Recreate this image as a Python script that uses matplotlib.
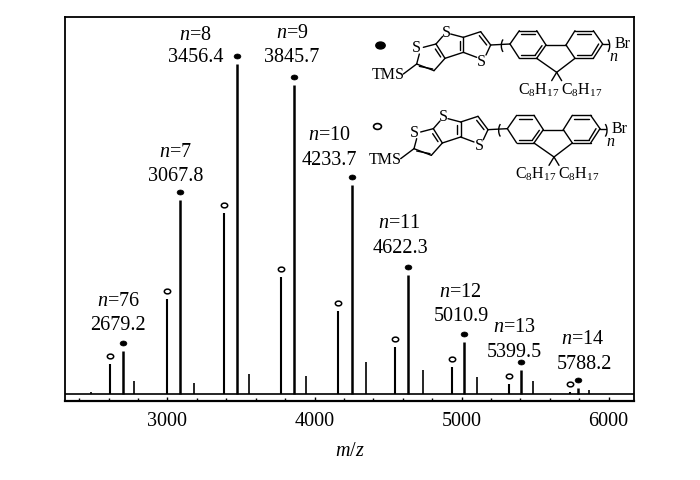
import matplotlib
matplotlib.use("Agg")
import matplotlib.pyplot as plt
from matplotlib.markers import MarkerStyle
from matplotlib.transforms import Affine2D
from matplotlib.patches import Arc

plt.rcParams['font.family'] = 'Liberation Serif'
plt.rcParams['mathtext.fontset'] = 'custom'
plt.rcParams['mathtext.rm'] = 'Liberation Serif'
plt.rcParams['mathtext.it'] = 'Liberation Serif:italic'
plt.rcParams['mathtext.default'] = 'regular'

# Data
filled_mz = [2700, 3085, 3473, 3861, 4252, 4636, 5017, 5405, 5792]
filled_int = [13, 58.4, 99.4, 93, 63, 35.8, 15.7, 7.2, 1.8]
open_mz = [2609, 2997, 3384, 3772, 4160, 4550, 4935, 5323, 5735]
open_int = [9, 28.6, 54.5, 35.2, 25, 14.2, 8.1, 3, 0.6]
minor_mz = [2480, 2772, 3180, 3554, 3942, 4350, 4738, 5105, 5486, 5867]
minor_int = [0.5, 3.9, 3.3, 6, 5.4, 9.6, 7.2, 5.1, 3.9, 1.2]
n_labels = ['76', '7', '8', '9', '10', '11', '12', '13', '14']
mass_labels = ['2679.2', '3067.8', '3456.4', '3845.7', '4233.7', '4622.3', '5010.9', '5399.5', '5788.2']
x_ticks = [3000, 4000, 5000, 6000]

W, H = 700, 481
fig = plt.figure(figsize=(W / 100, H / 100), dpi=100, facecolor='white')
L, R, T, B = 65, 634, 18, 402
ax = fig.add_axes([L / W, 1 - B / H, (R - L) / W, (B - T) / H])
ax.set_xlim(2303, 6173)
ax.set_ylim(-2.1, 113.6)

ax.hlines(0, 2303, 6173, color='black', lw=1.2)
ax.vlines(filled_mz, 0, filled_int, color='black', lw=1.8)
ax.vlines(open_mz, 0, open_int, color='black', lw=1.5)
ax.vlines(minor_mz, 0, minor_int, color='black', lw=1.2)

oval = MarkerStyle('o', transform=Affine2D().scale(1.35, 1))
ax.plot(filled_mz, [v + 2.5 for v in filled_int], ls='none', marker=oval, ms=3.6,
        mfc='black', mec='black', mew=0.5)
ax.plot(open_mz, [v + 2.4 for v in open_int], ls='none', marker=oval, ms=3.4,
        mfc='white', mec='black', mew=1.1)

ax.set_xticks(x_ticks)
ax.set_xticks(range(2400, 6200, 200), minor=True)
ax.set_yticks([])
ax.tick_params(axis='x', which='major', direction='in', length=3, width=1, labelsize=14.5, pad=7)
ax.tick_params(axis='x', which='minor', direction='in', length=2, width=1)
for s in ax.spines.values():
    s.set_linewidth(1.3)
ax.spines['bottom'].set_linewidth(1.6)
ax.set_xlabel('$\\mathit{m}$/$\\mathit{z}$', fontsize=14.5, labelpad=8)

# Overlay in pixel coordinates for annotations and the structural formulas
ov = fig.add_axes([0, 0, 1, 1], facecolor='none')
ov.set_xlim(0, W)
ov.set_ylim(H, 0)
ov.axis('off')

label_pos = [(118, 300, 118, 324), (175, 151, 176, 175), (195, 33, 196, 56),
             (292, 32, 292, 56), (329, 134, 329, 159), (399, 222, 400, 247),
             (460, 291, 461, 315), (514, 326, 514, 351), (583, 338, 584, 363)]
for n, m, (x1, y1, x2, y2) in zip(n_labels, mass_labels, label_pos):
    ov.text(x1, y1 + 2, f'$\\mathit{{n}}$={n}', ha='center', va='center', fontsize=14.5)
    ov.text(x2, y2 + 1.5, m, ha='center', va='center', fontsize=14.5)


def structure(dx, dy):
    def P(x, y):
        return (360 + (x + dx) / 3, 20 + (y + dy) / 3)

    def line(a, b, lw=1.0):
        p, q = P(*a), P(*b)
        ov.plot([p[0], q[0]], [p[1], q[1]], color='black', lw=lw, solid_capstyle='round')

    def chain(pts):
        for a, b in zip(pts[:-1], pts[1:]):
            line(a, b)

    def label(x, y, s, fs=11.5, **kw):
        p = P(x, y)
        ov.text(p[0], p[1], s, ha='center', va='center', fontsize=fs, **kw)

    # thienothiophene
    chain([(178, 105), (170, 135), (222, 155), (255, 118), (228, 75), (190, 85)])
    line((130, 165), (170, 135))
    line((178, 142), (218, 150))
    line((242, 114), (226, 90))
    chain([(228, 75), (248, 52)])
    chain([(272, 45), (310, 55), (310, 100), (255, 118)])
    line((300, 65), (300, 92))
    chain([(310, 55), (362, 38), (392, 78), (378, 108)])
    line((358, 50), (380, 78))
    line((310, 100), (350, 115))
    line((392, 78), (450, 75))
    # fluorene
    chain([(450, 75), (478, 35), (530, 35), (558, 78), (530, 118), (478, 118), (450, 75)])
    chain([(618, 78), (645, 35), (700, 35), (728, 75), (700, 118), (645, 118), (618, 78)])
    line((558, 78), (618, 78))
    chain([(530, 118), (590, 160), (645, 118)])
    chain([(575, 185), (590, 160), (605, 185)])
    line((484, 45), (524, 45)); line((484, 108), (524, 108)); line((546, 80), (526, 108))
    line((651, 45), (694, 45)); line((651, 108), (694, 108)); line((716, 75), (696, 108))
    line((728, 75), (745, 75))
    # brackets
    for bx, t1, t2 in [(436, 110, 250), (737, -70, 70)]:
        c = P(bx, 80)
        ov.add_patch(Arc(c, 8, 15, theta1=t1, theta2=t2, color='black', lw=1.0))
    label(170, 85, 'S'); label(258, 38, 'S'); label(365, 125, 'S')
    label(85, 165, 'TMS')
    label(788, 72, 'Br')
    label(760, 112, '$\\mathit{n}$')
    label(535, 210, 'C$_{8}$H$_{17}$')
    label(665, 210, 'C$_{8}$H$_{17}$')


structure(0, 0)
structure(-8, 254)
ov.plot([380], [45.7], marker=oval, ms=5, mfc='black', mec='black', ls='none')
ov.plot([377], [127], marker=oval, ms=4.2, mfc='white', mec='black', mew=1.2, ls='none')

fig.savefig('out.png', dpi=100)
